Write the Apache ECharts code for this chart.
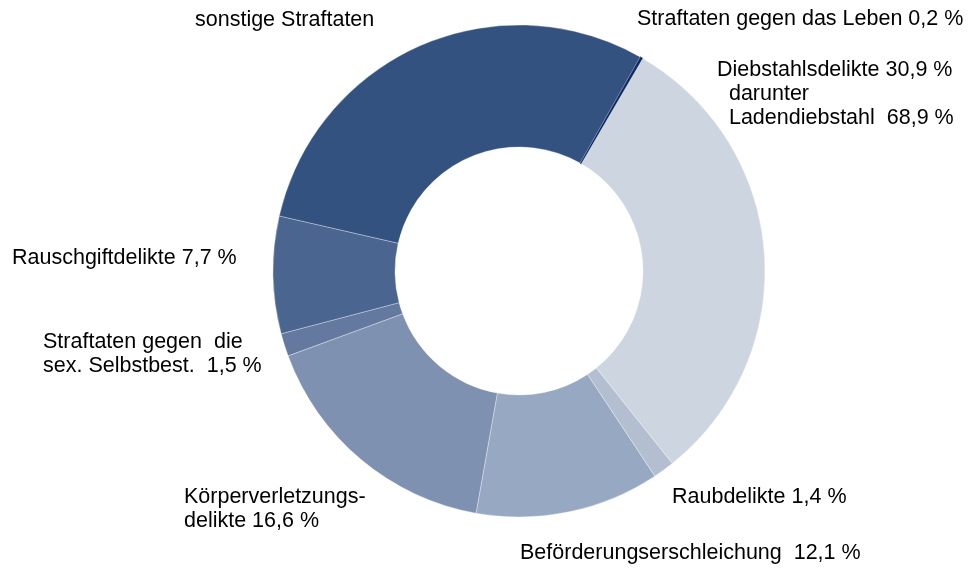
<!DOCTYPE html>
<html>
<head>
<meta charset="utf-8">
<script src="https://cdn.jsdelivr.net/npm/echarts@6/dist/echarts.min.js"></script>
<style>
  html, body { margin: 0; padding: 0; background: #fff; }
  #chart { width: 968px; height: 568px; }
</style>
</head>
<body>
<div id="chart"></div>
<script>
// Anteile (%) in Uhrzeigerrichtung, beginnend mit "Straftaten gegen das Leben"
var categories = [
  'Straftaten gegen das Leben',
  'Diebstahlsdelikte',
  'Raubdelikte',
  'Beförderungserschleichung',
  'Körperverletzungsdelikte',
  'Straftaten gegen die sex. Selbstbest.',
  'Rauschgiftdelikte',
  'sonstige Straftaten'
]
var shares = [0.2, 30.9, 1.4, 12.1, 16.6, 1.5, 7.7, 29.6]
var labelTexts = [
  'Straftaten gegen das Leben 0,2 %',
  'Diebstahlsdelikte 30,9 %\n  darunter\n  Ladendiebstahl  68,9 %',
  'Raubdelikte 1,4 %',
  'Beförderungserschleichung  12,1 %',
  'Körperverletzungs-\ndelikte 16,6 %',
  'Straftaten gegen  die\nsex. Selbstbest.  1,5 %',
  'Rauschgiftdelikte 7,7 %',
  'sonstige Straftaten'
]

var colors = ['#0d2a68', '#cdd5e0', '#b3bfd1', '#97a8c2', '#7f91b1', '#6479a0', '#4a6590', '#34527f']
// Label-Positionen (linke obere Ecke des Textblocks)
var labelPos = [
  [637, 7], [717, 58], [672, 485], [520, 541],
  [184, 485], [43, 330], [12, 246], [195, 8]
]

var chart = echarts.init(document.getElementById('chart'))
chart.setOption({
  animation: false,
  series: [{
    type: 'pie',
    center: [519, 271],
    radius: [124, 246],
    startAngle: 60.5,
    clockwise: true,
    avoidLabelOverlap: false,
    data: categories.map(function (name, i) {
      return {
        name: name,
        value: shares[i],
        itemStyle: {
          color: colors[i],
          borderColor: i === 0 ? colors[0] : 'rgba(255,255,255,0.55)',
          borderWidth: i === 0 ? 1 : 0.6
        }
      }
    }),
    label: {
      show: true,
      position: 'outside',
      color: '#000',
      fontFamily: 'Liberation Sans, Arial, sans-serif',
      fontSize: 21.5,
      lineHeight: 24,
      formatter: function (p) { return labelTexts[p.dataIndex] }
    },
    labelLine: { show: false },
    labelLayout: function (p) {
      var pos = labelPos[p.dataIndex]
      return { x: pos[0], y: pos[1], align: 'left', verticalAlign: 'top' }
    },
    emphasis: { disabled: true }
  }]
})
</script>
</body>
</html>
